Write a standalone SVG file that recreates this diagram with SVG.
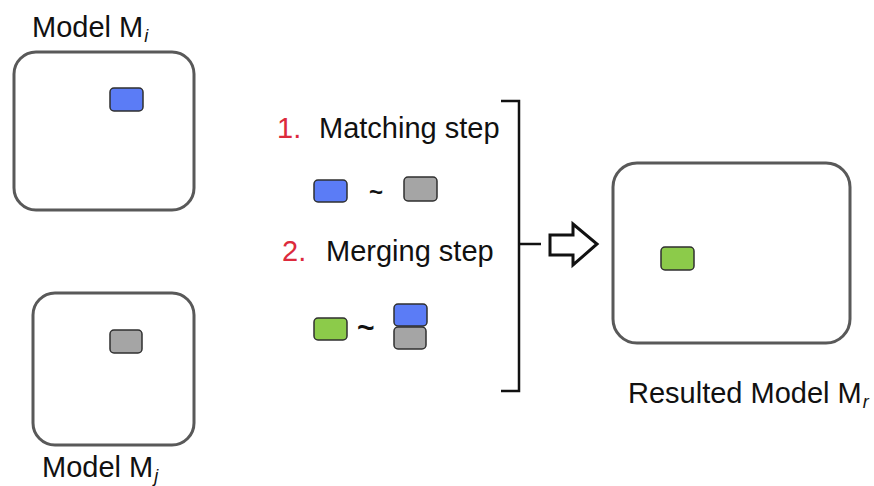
<svg xmlns="http://www.w3.org/2000/svg" width="874" height="486" viewBox="0 0 874 486">
  <style>
    .model { fill: #ffffff; stroke: #595959; stroke-width: 3; }
    .elem { stroke: #2f2f2f; stroke-width: 1.5; }
    .blue { fill: #5b7cf6; }
    .gray { fill: #a5a5a5; }
    .green { fill: #8ccb4a; }
    .label { font-family: "Liberation Sans", Arial, sans-serif; font-size: 29px; fill: #111111; }
    .sub { font-style: italic; font-size: 18px; }
    .num { fill: #dc2a3c; }
    .tilde { font-family: "Liberation Sans", Arial, sans-serif; font-weight: bold; fill: #111111; }
    .conn { fill: none; stroke: #111111; stroke-width: 2.5; }
  </style>
  <rect width="874" height="486" fill="#ffffff"/>

  <!-- source model Mi -->
  <g id="model-i">
    <text class="label" x="32" y="37">Model M<tspan class="sub" dx="1" dy="5">i</tspan></text>
    <rect class="model" x="14" y="52" width="180" height="158" rx="22"/>
    <rect class="elem blue" x="110" y="88" width="33" height="23" rx="4"/>
  </g>

  <!-- source model Mj -->
  <g id="model-j">
    <rect class="model" x="33" y="293" width="161" height="152" rx="22"/>
    <rect class="elem gray" x="110" y="330" width="32" height="23" rx="4"/>
    <text class="label" x="42" y="477">Model M<tspan class="sub" dx="1" dy="5">j</tspan></text>
  </g>

  <!-- step descriptions -->
  <g id="steps">
    <text class="label" x="277" y="138"><tspan class="num">1.</tspan></text>
    <text class="label" x="319" y="138">Matching step</text>
    <rect class="elem blue" x="314" y="180" width="33" height="22" rx="4"/>
    <text class="tilde" x="369" y="200" font-size="24">~</text>
    <rect class="elem gray" x="404" y="177" width="33" height="24" rx="4"/>

    <text class="label" x="282" y="261"><tspan class="num">2.</tspan></text>
    <text class="label" x="326" y="261">Merging step</text>
    <rect class="elem green" x="314" y="318" width="33" height="22" rx="4"/>
    <text class="tilde" x="357" y="338" font-size="30">~</text>
    <rect class="elem blue" x="394" y="304" width="33" height="22" rx="4"/>
    <rect class="elem gray" x="394" y="327" width="32" height="22" rx="4"/>
  </g>

  <!-- resulting model Mr -->
  <g id="model-r">
    <rect class="model" x="613" y="163" width="237" height="180" rx="24"/>
    <rect class="elem green" x="661" y="247" width="33" height="23" rx="4"/>
    <text class="label" x="628" y="403">Resulted Model M<tspan class="sub" dx="1" dy="5">r</tspan></text>
  </g>

  <!-- bracket and result arrow -->
  <g id="connectors">
    <path class="conn" d="M501,101 H519 V391 H501"/>
    <path class="conn" d="M519,244 H541"/>
    <polygon points="550,235 573,235 573,224 597,244 573,265 573,255 550,255" fill="#ffffff" stroke="#111111" stroke-width="3" stroke-linejoin="miter"/>
  </g>
</svg>
